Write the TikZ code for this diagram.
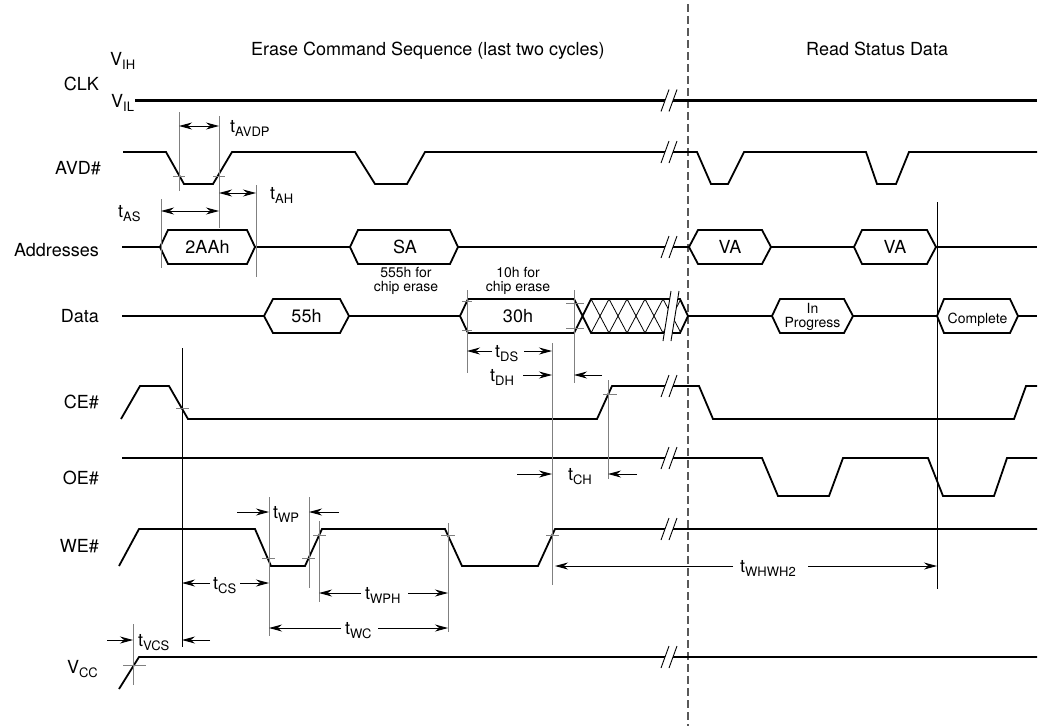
\documentclass[tikz,border=0pt]{standalone}
\usepackage{fontspec}
\setmainfont{TeX Gyre Heros}
\usetikzlibrary{arrows.meta}
\newcommand\sbs[1]{\raisebox{-4pt}{\fontsize{13}{13}\selectfont #1}}
\newcommand\tlab[1]{t\sbs{#1}}
\newcommand\brk[3]{%
  \fill[white] (#1-12,#2+#3) -- (#1-4,#2-#3) -- (#1+4,#2-#3) -- (#1-4,#2+#3) -- cycle;
  \draw[line width=0.9pt] (#1-12,#2+#3) -- (#1-4,#2-#3) (#1-4,#2+#3) -- (#1+4,#2-#3);}
\begin{document}
\begin{tikzpicture}[x=1pt,y=-1pt,
  sig/.style={line width=1.8pt, line join=miter},
  ref/.style={line width=0.9pt, draw=black!50},
  refk/.style={line width=0.9pt, draw=black},
  dim/.style={line width=0.9pt, -{Stealth[length=13pt,width=7pt]}},
  ddim/.style={line width=0.9pt, {Stealth[length=13pt,width=7pt]}-{Stealth[length=13pt,width=7pt]}},
  lab/.style={font=\fontsize{18}{20}\selectfont, inner sep=0pt},
  small/.style={font=\fontsize{14}{14}\selectfont, inner sep=0pt},
  tick/.style={line width=0.8pt, draw=black!50},
  hatch/.style={line width=0.8pt}]
\useasboundingbox (0,0) rectangle (1040,726);

% titles
\node[lab, anchor=base west] (ttl1) at (251,55) {Erase Command Sequence (last two cycles)};
\node[lab, anchor=base west] (ttl2) at (806,55) {Read Status Data};

% signal names
\node[lab, anchor=base west] (vih) at (110,65) {V\sbs{IH}};
\node[lab, anchor=base east] (clk) at (99,90) {CLK};
\node[lab, anchor=base west] (vil) at (111,107) {V\sbs{IL}};
\node[lab, anchor=base east] (avd) at (101,174) {AVD\#};
\node[lab, anchor=base east] (addr) at (99,256.5) {Addresses};
\node[lab, anchor=base east] (data) at (99,322) {Data};
\node[lab, anchor=base east] (ce) at (99,408) {CE\#};
\node[lab, anchor=base east] (oe) at (99,484) {OE\#};
\node[lab, anchor=base east] (we) at (99,552) {WE\#};
\node[lab, anchor=base east] (vcc) at (98,673) {V\sbs{CC}};

% dashed separator
\draw[line width=1.2pt, draw=black!65, dash pattern=on 8pt off 4pt] (688,4) -- (688,726);

% CLK
\draw[line width=2.2pt] (135,100.5) -- (1037,100.5);
% AVD#
\draw[sig] (123,152) -- (166,152) -- (184,184) -- (213,184) -- (232,152) -- (355,152) -- (375,184) -- (407,184) -- (425,152)
  -- (697,152) -- (711,184) -- (728,184) -- (744,152) -- (866,152) -- (877,184) -- (896,184) -- (909,152) -- (1037,152);
% Addresses
\draw[sig] (122,247) -- (160,247) (255,247) -- (350,247) (458,247) -- (689,247) (771,247) -- (854,247) (936,247) -- (1037,247);
\draw[sig] (160,247) -- (168,230) -- (247,230) -- (255,247) -- (247,264) -- (168,264) -- cycle;
\draw[sig] (350,247) -- (358,230) -- (450,230) -- (458,247) -- (450,264) -- (358,264) -- cycle;
\draw[sig] (689,247) -- (698,230) -- (762,230) -- (771,247) -- (762,264) -- (698,264) -- cycle;
\draw[sig] (854,247) -- (862,230) -- (927,230) -- (936,247) -- (927,264) -- (862,264) -- cycle;
\node[lab, anchor=base] (a1) at (207.5,253.5) {2AAh};
\node[lab, anchor=base] (a2) at (405,253.5) {SA};
\node[lab, anchor=base] (a3) at (730,253.5) {VA};
\node[lab, anchor=base] (a4) at (895,253.5) {VA};
\node[small, anchor=base] (n1) at (406,277.5) {555h for};
\node[small, anchor=base] (n2) at (406,291) {chip erase};
\node[small, anchor=base] (n3) at (518,277.5) {10h for};
\node[small, anchor=base] (n4) at (518,291) {chip erase};

% Data
\draw[sig] (122,316) -- (264,316) (349,316) -- (460,316) (688,316) -- (772,316) (853,316) -- (937,316) (1018,316) -- (1037,316);
\draw[sig] (264,316) -- (273,299) -- (340,299) -- (349,316) -- (340,333) -- (273,333) -- cycle;
\draw[sig] (574,299) -- (468,299) -- (460,316) -- (468,333) -- (574,333) -- (591,299) -- (680,299) -- (688,316) -- (680,333) -- (591,333) -- cycle;
\begin{scope}
  \clip (591,299) -- (680,299) -- (688,316) -- (680,333) -- (591,333) -- (582.5,316) -- cycle;
  \foreach \k in {0,...,4} {
    \draw[hatch] (591+18*\k,299) -- (609+18*\k,333);
    \draw[hatch] (609+18*\k,299) -- (591+18*\k,333);
  }
\end{scope}
\draw[sig] (772,316) -- (780,299) -- (844,299) -- (853,316) -- (844,333) -- (780,333) -- cycle;
\draw[sig] (937,316) -- (944,299) -- (1010,299) -- (1018,316) -- (1010,333) -- (944,333) -- cycle;
\node[lab, anchor=base] (d1) at (306.5,322.5) {55h};
\node[lab, anchor=base] (d2) at (518,322.5) {30h};
\node[small, anchor=base] (d3) at (812.5,313) {In};
\node[small, anchor=base] (d4) at (812.5,327.5) {Progress};
\node[small, anchor=base] (d5) at (977.5,323) {Complete};

% CE#
\draw[sig] (121,419) -- (140,386) -- (169,386) -- (188,419) -- (597,419) -- (612,386) -- (699,386) -- (713,419) -- (1014,419) -- (1026,386) -- (1037,386);
% OE#
\draw[sig] (122,458) -- (762,458) -- (778,496) -- (829,496) -- (843,458) -- (928,458) -- (943,496) -- (994,496) -- (1007,458) -- (1037,458);
% WE#
\draw[sig] (119,566) -- (139,529) -- (255,529) -- (271,566) -- (305,566) -- (322,529) -- (445,529) -- (462,566) -- (538,566) -- (555,529) -- (1037,529);
% VCC
\draw[sig] (119,689) -- (139,657) -- (1037,657);

% breaks
\brk{673}{100.5}{11}
\brk{673}{152}{11}
\brk{673}{247}{11}
\brk{675}{316}{25}
\brk{673}{386}{11}
\brk{673}{458}{11}
\brk{673}{529}{11}
\brk{673}{657}{11}

% reference lines
\draw[ref] (179,112) -- (179,191);
\draw[ref] (219,116) -- (219,228);
\draw[ref] (256,185) -- (256,277);
\draw[ref] (161,199) -- (161,268);
\draw[ref] (467,290) -- (467,373);
\draw[ref] (574,290) -- (574,383);
\draw[ref] (552,343) -- (552,585);
\draw[ref] (608,380) -- (608,479);
\draw[refk] (182,348) -- (182,647);
\draw[refk] (937,202) -- (937,589);
\draw[ref] (269,497) -- (269,636);
\draw[ref] (309,497) -- (309,588);
\draw[ref] (319,521) -- (319,602);
\draw[ref] (448,523) -- (448,632);
\draw[ref] (133,624) -- (133,685);

% ticks
\draw[tick] (173,176) -- (185,176) (213,176) -- (225,176);
\draw[tick] (462,301) -- (472,301) (462,330) -- (472,330);
\draw[tick] (566,303) -- (584,303) (566,328) -- (584,328);
\draw[tick] (176,408) -- (189,408) (603,394) -- (617,394);
\draw[tick] (262,558) -- (275,558) (302,558) -- (315,558) (313,535) -- (326,535) (441,535) -- (455,535) (546,535) -- (559,535);
\draw[tick] (123,665) -- (146,665);

% timing arrows
\draw[ddim] (179,126) -- (219,126);
\node[lab, anchor=base west] (tavdp) at (230,132) {\tlab{AVDP}};
\draw[ddim] (219,193) -- (256,193);
\node[lab, anchor=base west] (tah) at (270,199) {\tlab{AH}};
\draw[ddim] (161,211) -- (219,211);
\node[lab, anchor=base west] (tas) at (118,217) {\tlab{AS}};

\draw[dim] (492,351) -- (467,351);
\draw[dim] (524,351) -- (552,351);
\node[lab, anchor=base west] (tds) at (495,357) {\tlab{DS}};
\draw[dim] (523,375) -- (552,375);
\draw[dim] (602,375) -- (574,375);
\node[lab, anchor=base west] (tdh) at (490,381) {\tlab{DH}};
\draw[dim] (517,474) -- (552,474);
\draw[dim] (637,474) -- (608,474);
\node[lab, anchor=base west] (tch) at (568,480) {\tlab{CH}};

\draw[dim] (237,512) -- (269,512);
\draw[dim] (339,512) -- (309,512);
\node[lab, anchor=base west] (twp) at (273,518) {\tlab{WP}};
\draw[dim] (210,583) -- (182,583);
\draw[dim] (240,583) -- (269,583);
\node[lab, anchor=base west] (tcs) at (213,589) {\tlab{CS}};
\draw[dim] (361,593) -- (319,593);
\draw[dim] (408,593) -- (448,593);
\node[lab, anchor=base west] (twph) at (365,599) {\tlab{WPH}};
\draw[dim] (341,628) -- (269,628);
\draw[dim] (378,628) -- (448,628);
\node[lab, anchor=base west] (twc) at (345,634) {\tlab{WC}};
\draw[dim] (107,640) -- (133,640);
\draw[dim] (210,640) -- (182,640);
\node[lab, anchor=base west] (tvcs) at (138,646) {\tlab{VCS}};
\draw[dim] (733,566) -- (555,566);
\draw[dim] (808,566) -- (937,566);
\node[lab, anchor=base west] (twh) at (740,572) {\tlab{WHWH2}};
\end{tikzpicture}
\end{document}
